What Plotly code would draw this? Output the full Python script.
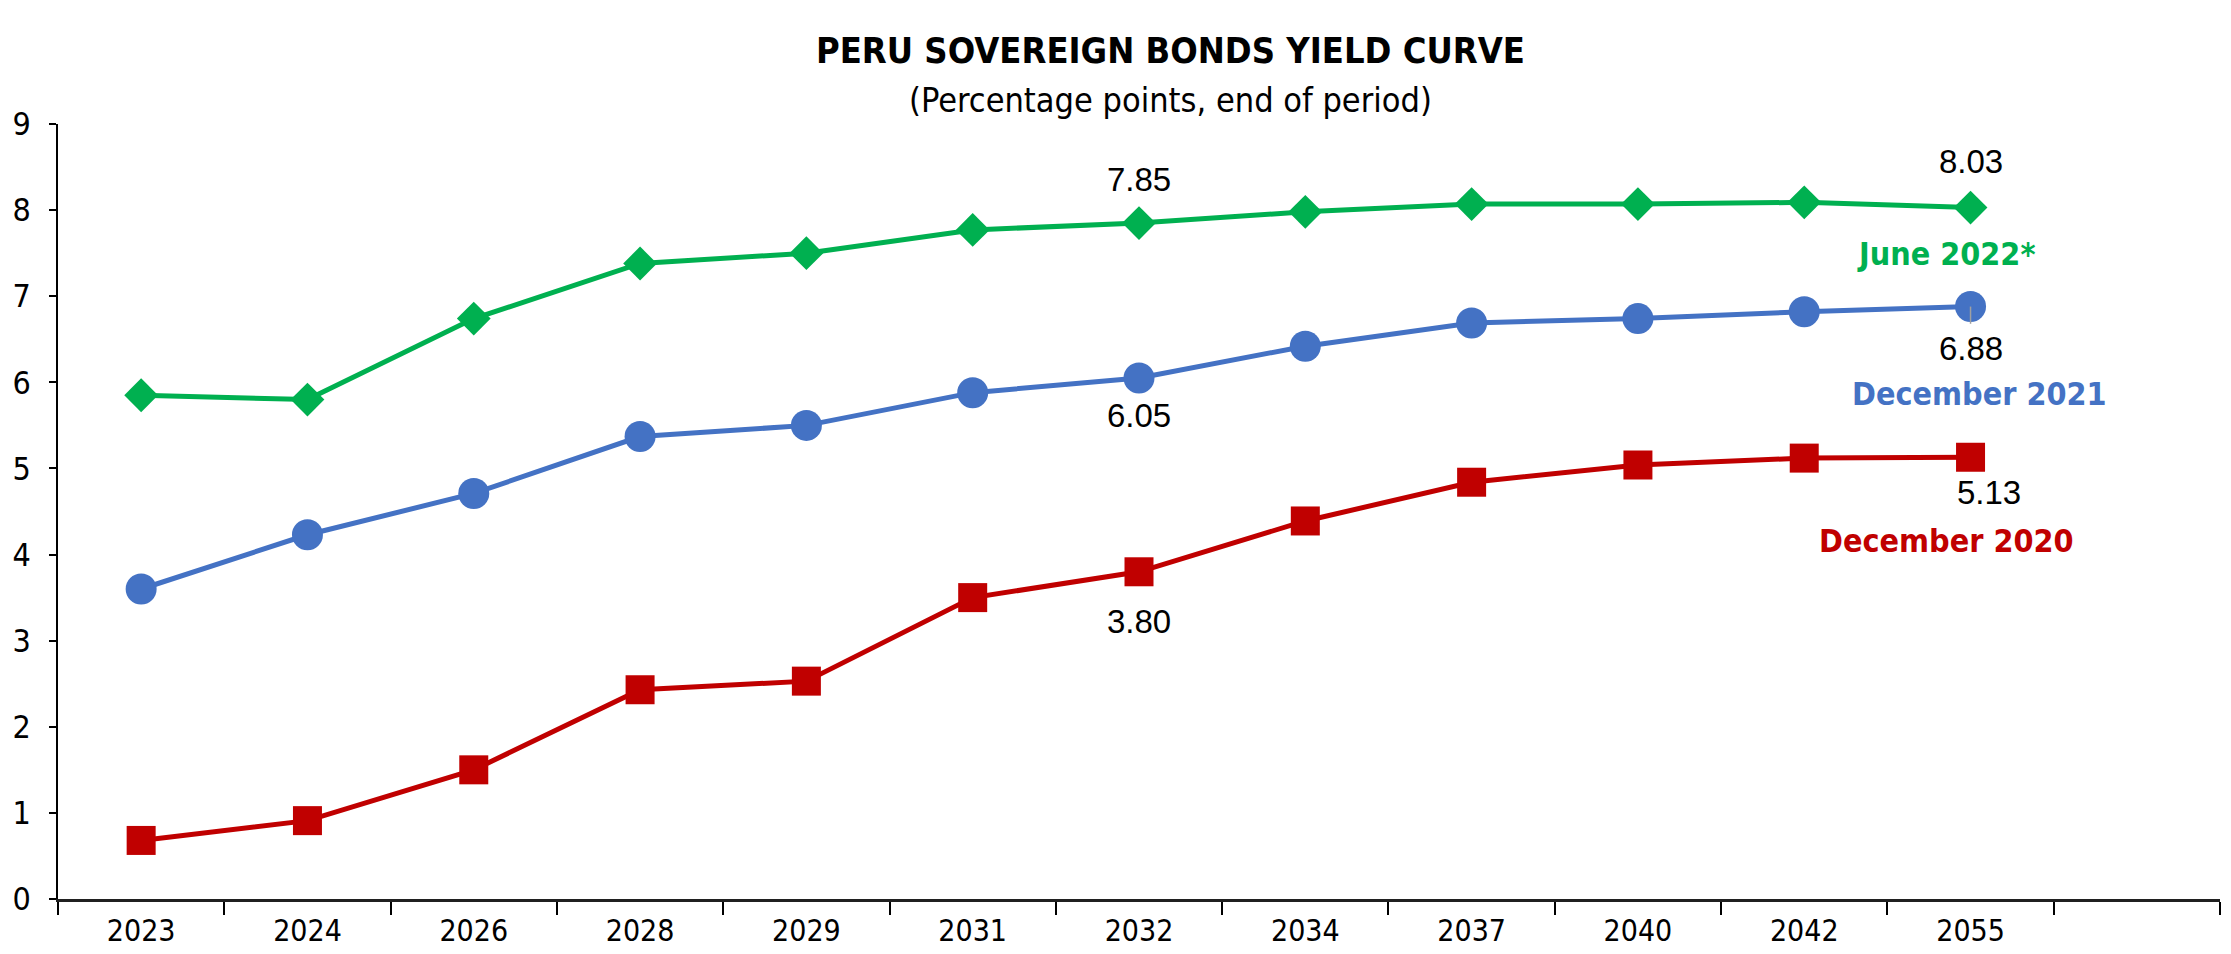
import plotly.graph_objects as go

categories = ["2023", "2024", "2026", "2028", "2029", "2031", "2032", "2034", "2037", "2040", "2042", "2055"]
june_2022 = [5.85, 5.80, 6.74, 7.38, 7.50, 7.77, 7.85, 7.98, 8.07, 8.07, 8.09, 8.03]
dec_2021 = [3.60, 4.23, 4.71, 5.37, 5.50, 5.88, 6.05, 6.42, 6.69, 6.74, 6.82, 6.88]
dec_2020 = [0.68, 0.91, 1.50, 2.43, 2.53, 3.50, 3.80, 4.39, 4.84, 5.04, 5.12, 5.13]
y_ticks = [0, 1, 2, 3, 4, 5, 6, 7, 8, 9]

GREEN = "#00B050"
BLUE = "#4472C4"
RED = "#C00000"
NARROW = "Liberation Sans Narrow, Arial Narrow, DejaVu Sans Condensed, sans-serif"
REG = "Liberation Sans, Arial, sans-serif"

xs = list(range(len(categories)))

fig = go.Figure()
fig.add_trace(go.Scatter(x=xs, y=dec_2020, mode="lines+markers", name="December 2020",
                         line=dict(color=RED, width=5),
                         marker=dict(symbol="square", size=29, color=RED)))
fig.add_trace(go.Scatter(x=xs, y=dec_2021, mode="lines+markers", name="December 2021",
                         line=dict(color=BLUE, width=5),
                         marker=dict(symbol="circle", size=31, color=BLUE)))
fig.add_trace(go.Scatter(x=xs, y=june_2022, mode="lines+markers", name="June 2022*",
                         line=dict(color=GREEN, width=5),
                         marker=dict(symbol="diamond", size=26, color=GREEN)))

ann = []
i32 = categories.index("2032")
i55 = categories.index("2055")
ann.append(dict(x=i32, y=june_2022[i32], text=f"{june_2022[i32]:.2f}", yshift=44))
ann.append(dict(x=i55, y=june_2022[i55], text=f"{june_2022[i55]:.2f}", yshift=46))
ann.append(dict(x=i32, y=dec_2021[i32], text=f"{dec_2021[i32]:.2f}", yshift=-37))
ann.append(dict(x=i55, y=dec_2021[i55], text=f"{dec_2021[i55]:.2f}", yshift=-42))
ann.append(dict(x=i32, y=dec_2020[i32], text=f"{dec_2020[i32]:.2f}", yshift=-50))
ann.append(dict(x=i55, y=dec_2020[i55], text=f"{dec_2020[i55]:.2f}", yshift=-35, xshift=18))
for a in ann:
    a.update(xref="x", yref="y", showarrow=False, font=dict(family=REG, size=33, color="black"))

# series labels
ann.append(dict(x=i55, y=june_2022[i55], xshift=-25, yshift=-46, text="<b>June 2022*</b>", showarrow=False,
                xref="x", yref="y", font=dict(family=NARROW, size=32, color=GREEN)))
ann.append(dict(x=i55, y=dec_2021[i55], xshift=9, yshift=-87, text="<b>December 2021</b>", showarrow=False,
                xref="x", yref="y", font=dict(family=NARROW, size=32, color=BLUE)))
ann.append(dict(x=i55, y=dec_2020[i55], xshift=-24, yshift=-84, text="<b>December 2020</b>", showarrow=False,
                xref="x", yref="y", font=dict(family=NARROW, size=32, color=RED)))

# titles
ann.append(dict(x=1170, y=954 - 28, xref="paper", yref="paper", text="<b>PERU SOVEREIGN BONDS YIELD CURVE</b>",
                showarrow=False, font=dict(family=NARROW, size=36, color="black")))
ann.append(dict(x=1170, y=954 - 78, xref="paper", yref="paper", text="(Percentage points, end of period)",
                showarrow=False, font=dict(family=NARROW, size=34, color="black")))

L, R, T, B = 58, 11, 124, 55
W, H = 2231, 954
pw, ph = W - L - R, H - T - B
for a in ann:
    if a.get("xref") == "paper":
        a["x"] = (a["x"] - L) / pw
        a["y"] = (a["y"] - B) / ph

# short leader line for 6.88 label
fig.add_shape(type="line", xref="x", yref="y", x0=i55, x1=i55, y0=dec_2021[i55], y1=dec_2021[i55] - 0.2,
              line=dict(color="#A0A0A0", width=1.5))

fig.update_layout(
    width=W, height=H,
    margin=dict(l=L, r=R, t=T, b=B, autoexpand=False),
    paper_bgcolor="white", plot_bgcolor="white",
    showlegend=False,
    annotations=ann,
    xaxis=dict(
        range=[-0.5, len(categories) + 0.5],
        tickmode="array", tickvals=xs, ticktext=categories,
        ticks="", showgrid=False, zeroline=False,
        showline=True, linecolor="#202020", linewidth=3,
        tickfont=dict(family=NARROW, size=30, color="black"),
        ticklabelstandoff=3, automargin=False,
        minor=dict(ticks="outside", tick0=0.5, dtick=1, ticklen=13, tickcolor="black", tickwidth=1.5, showgrid=False),
        fixedrange=True,
    ),
    yaxis=dict(
        range=[0, 9], tickmode="array", tickvals=y_ticks,
        ticks="outside", ticklen=7, tickwidth=1.5, tickcolor="black",
        showgrid=False, zeroline=False, automargin=False,
        showline=True, linecolor="black", linewidth=1.5,
        tickfont=dict(family=NARROW, size=32, color="black"),
        ticklabelstandoff=12,
    ),
)

fig.write_html("out.html")
